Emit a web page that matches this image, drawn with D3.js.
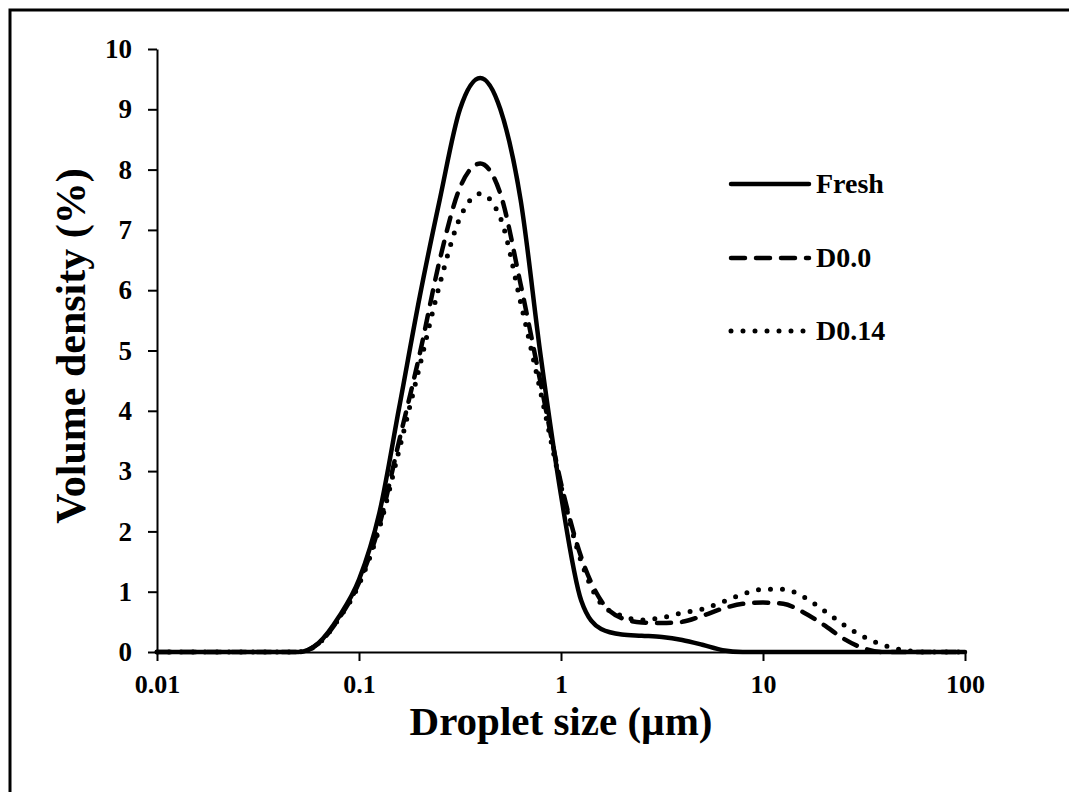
<!DOCTYPE html><meta charset="utf-8"><style>
    body { margin: 0; background: #fff; }
    svg text { font-family: "Liberation Serif", "Times New Roman", serif; font-weight: bold; fill: #000; }
    .axis path, .axis line { stroke: #000; stroke-width: 2; }
</style><svg width="1069" height="792"></svg><script src="https://cdn.jsdelivr.net/npm/d3@7"></script><script>

    var width = 1069, height = 792;

    var margin = ({top: 49, right: 108, bottom: 140, left: 157});

    // droplet size (µm), shared by all series
    var sizes = [0.01,
        0.0501, 0.0631, 0.0794, 0.1, 0.126, 0.158, 0.2, 0.251, 0.316, 0.398,
        0.501, 0.631, 0.794, 1, 1.26, 1.58, 2, 2.51, 3.16, 3.98,
        5.01, 6.31, 7.94, 10, 12.6, 15.8, 20, 25.1, 31.6, 39.8,
        50.1, 63.1, 79.4, 100];

    var fresh = [0,
        0, 0.15, 0.58, 1.2, 2.3, 4.05, 5.9, 7.5, 9.0, 9.52,
        9.0, 7.5, 4.9, 2.6, 0.85, 0.38, 0.29, 0.27, 0.25, 0.2,
        0.12, 0.03, 0, 0, 0, 0, 0, 0, 0, 0,
        0, 0, 0, 0];

    var d00 = [0,
        0, 0.14, 0.55, 1.15, 2.1, 3.5, 4.95, 6.5, 7.7, 8.1,
        7.6, 6.1, 4.45, 2.8, 1.57, 0.85, 0.56, 0.49, 0.48, 0.5,
        0.6, 0.72, 0.8, 0.82, 0.8, 0.66, 0.45, 0.22, 0.06, 0,
        0, 0, 0, 0];

    var d014 = [0,
        0, 0.14, 0.55, 1.12, 2.05, 3.35, 4.75, 6.1, 7.2, 7.6,
        7.2, 5.8, 4.3, 2.75, 1.5, 0.8, 0.6, 0.53, 0.57, 0.65,
        0.71, 0.83, 0.96, 1.04, 1.04, 0.92, 0.69, 0.45, 0.25, 0.11,
        0.03, 0, 0, 0];

    var seriesNames = ["Fresh", "D0.0", "D0.14"];
    var xTicks = [0.01, 0.1, 1, 10, 100];
    var yTicks = [0, 1, 2, 3, 4, 5, 6, 7, 8, 9, 10];

    var styles = {
        "Fresh": {dash: null, cap: "round", w: 4.5},
        "D0.0": {dash: "14 11", cap: "round", w: 4.5},
        "D0.14": {dash: "0 12", cap: "round", w: 5}
    };

    var series = [fresh, d00, d014].map((vals, i) => ({
        name: seriesNames[i],
        values: vals.map((v, j) => ({x: sizes[j], y: v}))
    }));

    var x = d3.scaleLog()
        .domain([0.01, 100])
        .range([margin.left, width - margin.right + 4]);

    var y = d3.scaleLinear()
        .domain([0, 10])
        .range([height - margin.bottom, margin.top]);

    const svg = d3.select("svg")
        .attr("viewBox", [0, 0, width, height]);

    // outer frame (runs off the right and bottom edges)
    svg.append("rect")
        .attr("x", 10).attr("y", 10)
        .attr("width", width + 20).attr("height", height + 20)
        .attr("fill", "none").attr("stroke", "#000").attr("stroke-width", 3);

    var line = d3.line()
        .x(d => x(d.x))
        .y(d => y(d.y))
        .curve(d3.curveMonotoneX);

    svg.append("g")
        .selectAll("path")
        .data(series)
        .join("path")
        .attr("d", d => line(d.values))
        .attr("fill", "none")
        .attr("stroke", "#000")
        .attr("stroke-width", d => styles[d.name].w)
        .attr("stroke-linecap", d => styles[d.name].cap)
        .attr("stroke-dasharray", d => styles[d.name].dash);

    svg.append("g")
        .attr("class", "axis")
        .attr("transform", `translate(0,${y(0)})`)
        .call(d3.axisBottom(x).tickValues(xTicks).tickFormat(d => String(d)).tickSize(9).tickSizeOuter(0).tickPadding(14))
        .call(g => g.selectAll("text").attr("font-size", 26).attr("font-family", null));

    svg.append("g")
        .attr("class", "axis")
        .attr("transform", `translate(${margin.left},0)`)
        .call(d3.axisLeft(y).tickValues(yTicks).tickSize(9).tickSizeOuter(0).tickPadding(16))
        .call(g => g.selectAll("text").attr("font-size", 27).attr("font-family", null));

    svg.append("text")
        .attr("x", (x(0.01) + x(100)) / 2)
        .attr("y", 735)
        .attr("text-anchor", "middle")
        .attr("font-size", 41)
        .text("Droplet size (µm)");

    svg.append("text")
        .attr("transform", "translate(85,346) rotate(-90)")
        .attr("text-anchor", "middle")
        .attr("font-size", 42)
        .text("Volume density (%)");

    // legend
    var legend = svg.append("g")
        .selectAll("g")
        .data(series)
        .join("g")
        .attr("transform", (d, i) => `translate(729,${[184, 258, 331][i]})`);

    legend.append("line")
        .attr("x1", 2).attr("x2", 80)
        .attr("stroke", "#000")
        .attr("stroke-width", d => styles[d.name].w)
        .attr("stroke-linecap", d => styles[d.name].cap)
        .attr("stroke-dasharray", d => styles[d.name].dash);

    legend.append("text")
        .attr("x", 87)
        .attr("y", 9)
        .attr("font-size", 28)
        .text(d => d.name);

</script>
